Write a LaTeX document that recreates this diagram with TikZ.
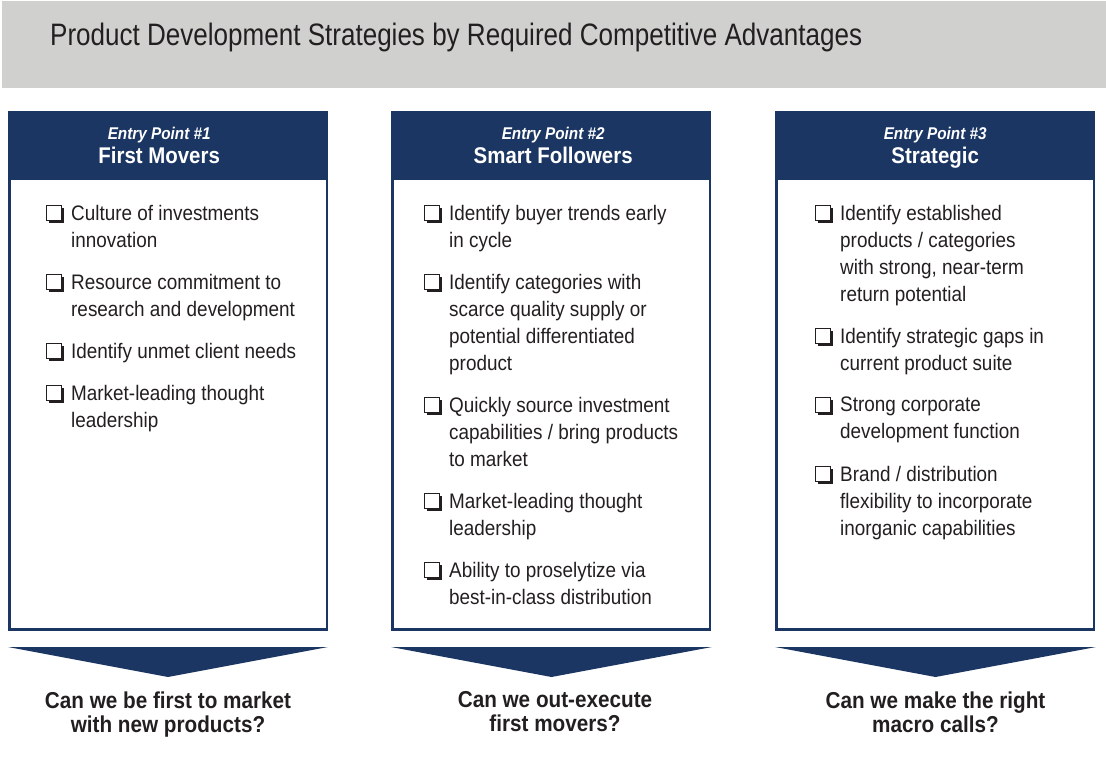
\documentclass[tikz,border=0pt]{standalone}
\usepackage{fontspec}
\setmainfont[FakeStretch=0.9]{Liberation Sans}
\newfontfamily\titlefont[FakeStretch=0.84]{Liberation Sans}
\usetikzlibrary{positioning, shadows}

\definecolor{navy}{RGB}{27,54,99}
\definecolor{band}{RGB}{208,208,207}
\definecolor{ink}{RGB}{35,31,32}

\begin{document}
\begin{tikzpicture}[x=1pt, y=1pt, text=ink,
    head/.style = {fill=navy, minimum width=320pt, minimum height=66pt,
                   inner sep=0pt, anchor=north west},
    headtext/.style = {text=white, align=center, inner sep=0pt, anchor=north},
    body/.style = {draw=navy, line width=2.5pt, minimum width=317.5pt,
                   minimum height=451pt, inner sep=0pt, anchor=north},
    item/.style = {anchor=north west, inner sep=0pt, align=left,
                   font=\fontsize{21}{27}\selectfont},
    next/.style 2 args = {below right=#2 and 0pt of #1.north west},
    chk/.style = {draw=ink, fill=white, line width=0.9pt, minimum size=15pt, inner sep=0pt,
                  drop shadow={shadow xshift=2.6pt, shadow yshift=-2.6pt, fill=ink, opacity=1}},
    ask/.style = {align=center, anchor=north, font=\fontsize{23}{24}\selectfont\bfseries}]
    \useasboundingbox (0,0) rectangle (1106,-765);

    % title band
    \fill[band] (2,-1) rectangle (1106,-88);
    \node[anchor=west, inner sep=0pt, font=\titlefont\fontsize{31}{33}\selectfont] (title) at (50,-37)
        {Product Development Strategies by Required Competitive Advantages};

    % column heads and frames
    \node[head] (h1) at (8,-111) {};
    \node[head] (h2) at (391,-111) {};
    \node[head] (h3) at (775,-111) {};
    \node[body] (b1) at (h1.south) {};
    \node[body] (b2) at (h2.south) {};
    \node[body] (b3) at (h3.south) {};

    \node[headtext] (n1) at ([xshift=-9pt, yshift=-16pt]h1.north)
        {{\fontsize{17}{21}\selectfont\bfseries\itshape Entry Point \#1}\\[3pt]
         {\fontsize{22.7}{25}\selectfont\bfseries First Movers}};
    \node[headtext] (n2) at ([xshift=2pt, yshift=-16pt]h2.north)
        {{\fontsize{17}{21}\selectfont\bfseries\itshape Entry Point \#2}\\[3pt]
         {\fontsize{22.7}{25}\selectfont\bfseries Smart Followers}};
    \node[headtext] (n3) at ([xshift=0pt, yshift=-16pt]h3.north)
        {{\fontsize{17}{21}\selectfont\bfseries\itshape Entry Point \#3}\\[3pt]
         {\fontsize{22.7}{25}\selectfont\bfseries Strategic}};

    % first column
    \node[item] (a1) at (71,-205) {Culture of investments\\innovation};
    \node[item, next={a1}{69pt}] (a2) {Resource commitment to\\research and development};
    \node[item, next={a2}{69pt}] (a3) {Identify unmet client needs};
    \node[item, next={a3}{42pt}] (a4) {Market-leading thought\\leadership};

    % second column
    \node[item] (s1) at (449,-205) {Identify buyer trends early\\in cycle};
    \node[item, next={s1}{69pt}] (s2) {Identify categories with\\scarce quality supply or\\potential differentiated\\product};
    \node[item, next={s2}{123pt}] (s3) {Quickly source investment\\capabilities / bring products\\to market};
    \node[item, next={s3}{96pt}] (s4) {Market-leading thought\\leadership};
    \node[item, next={s4}{69pt}] (s5) {Ability to proselytize via\\best-in-class distribution};

    % third column
    \node[item] (t1) at (840,-205) {Identify established\\products / categories\\with strong, near-term\\return potential};
    \node[item, next={t1}{123pt}] (t2) {Identify strategic gaps in\\current product suite};
    \node[item, next={t2}{69pt}] (t3) {Strong corporate\\development function};
    \node[item, next={t3}{69pt}] (t4) {Brand / distribution\\flexibility to incorporate\\inorganic capabilities};

    % check boxes
    \foreach \n in {a1,a2,a3,a4,s1,s2,s3,s4,s5,t1,t2,t3,t4}
        \node[chk] (box-\n) at ([xshift=-17pt, yshift=-8pt]\n.north west) {};

    % chevrons
    \fill[navy] (8,-647) -- (328,-647) -- (168,-677) -- cycle;
    \fill[navy] (391,-647) -- (712,-647) -- (551.5,-677) -- cycle;
    \fill[navy] (775,-647) -- (1096,-647) -- (935.5,-677) -- cycle;

    \node[ask] (q1) at (168,-688) {Can we be first to market\\with new products?};
    \node[ask] (q2) at (555,-688) {Can we out-execute\\first movers?};
    \node[ask] (q3) at (935.5,-688) {Can we make the right\\macro calls?};
\end{tikzpicture}
\end{document}
